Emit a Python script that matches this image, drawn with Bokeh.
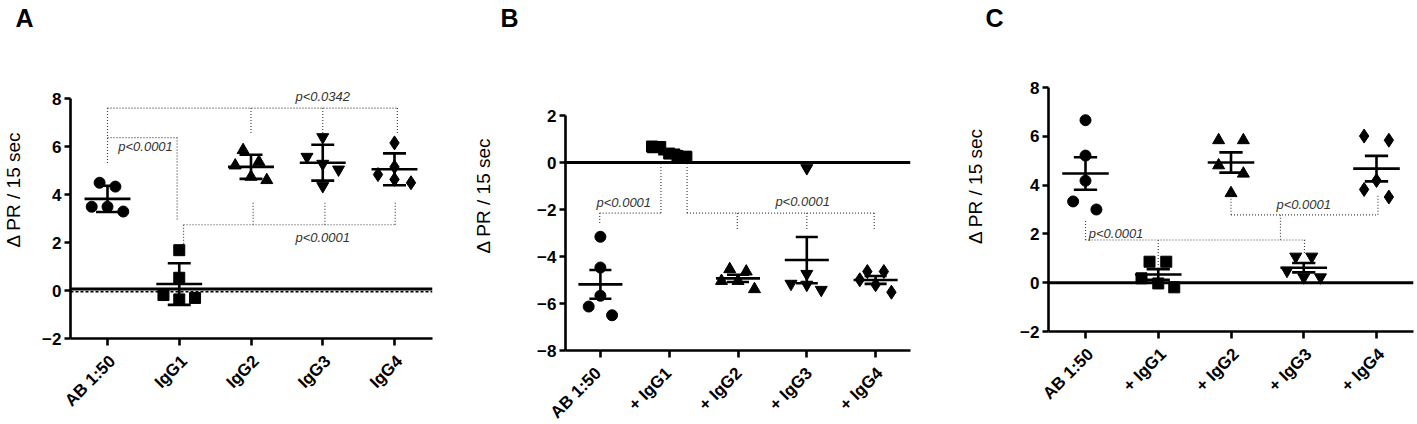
import numpy as np
from math import pi
from bokeh.plotting import figure
from bokeh.layouts import row, column
from bokeh.models import Span, FixedTicker, Range1d
from bokeh.core.properties import value
from bokeh.embed import file_html
from bokeh.resources import INLINE

FONT = "Liberation Sans"

# ---------------- data ----------------
A_labels = ["AB 1:50", "IgG1", "IgG2", "IgG3", "IgG4"]
A_ab   = [4.49, 4.33, 3.49, 3.49, 3.29]
A_igg1 = [1.68, 0.53, -0.19, -0.37, -0.31]
A_igg2 = [5.85, 5.36, 5.21, 4.74, 4.60]
A_igg3 = [6.39, 5.57, 5.28, 5.04, 4.35]
A_igg4 = [6.15, 5.15, 4.83, 4.63, 4.49]
A_jitter = [[-0.11, 0.11, -0.22, 0.0, 0.22],
            [0.0, 0.0, -0.22, 0.0, 0.22],
            [-0.11, 0.11, -0.22, 0.0, 0.22],
            [0.0, -0.22, 0.0, 0.22, 0.0],
            [0.0, 0.0, -0.23, 0.0, 0.23]]

B_labels = ["AB 1:50", "+ IgG1", "+ IgG2", "+ IgG3", "+ IgG4"]
B_ab   = [-3.16, -4.47, -5.67, -6.13, -6.50]
B_igg1 = [0.68, 0.66, 0.38, 0.28, 0.24]
B_igg2 = [-4.54, -4.64, -5.04, -5.04, -5.39]
B_igg3 = [-0.24, -4.74, -5.16, -5.20, -5.42]
B_igg4 = [-4.64, -4.64, -4.99, -5.20, -5.52]
B_jitter = [[0.0, 0.0, 0.0, -0.17, 0.17],
            [-0.25, -0.13, 0.0, 0.12, 0.25],
            [-0.12, 0.12, -0.24, 0.0, 0.24],
            [0.0, 0.0, -0.23, 0.0, 0.21],
            [-0.12, 0.12, -0.23, 0.0, 0.23]]

C_labels = ["AB 1:50", "+ IgG1", "+ IgG2", "+ IgG3", "+ IgG4"]
C_ab   = [6.66, 5.21, 4.18, 3.33, 3.00]
C_igg1 = [0.86, 0.86, 0.18, -0.03, -0.19]
C_igg2 = [5.84, 5.84, 4.81, 4.47, 3.67]
C_igg3 = [1.07, 1.07, 0.49, 0.22, 0.22]
C_igg4 = [6.01, 5.84, 4.19, 3.82, 3.51]
C_jitter = [[0.0, 0.0, 0.0, -0.17, 0.15],
            [-0.12, 0.11, -0.23, 0.0, 0.22],
            [-0.17, 0.17, -0.17, 0.17, 0.0],
            [-0.11, 0.11, -0.23, 0.0, 0.23],
            [-0.17, 0.17, 0.0, -0.17, 0.17]]

markers = ["circle", "square", "triangle", "inverted_triangle", "diamond"]
marker_sizes = [11, 11, 12, 12, 14]

# significance brackets (x in category units, y in data units)
A_brackets = [(0, 7.6, 4.04, 7.6), (0, 7.6, 0, 5.28), (2.0, 7.6, 2.0, 6.55),
              (3.0, 7.6, 3.0, 6.55), (4.04, 7.6, 4.04, 6.55),
              (0, 6.37, 0.97, 6.37), (0.97, 6.37, 0.97, 2.88),
              (1.06, 2.74, 4.01, 2.74), (1.06, 2.74, 1.06, 1.9),
              (2.03, 2.74, 2.03, 3.7), (3.03, 2.74, 3.03, 3.7), (4.01, 2.74, 4.01, 3.7)]
A_ptext = [("p<0.0342", 3.0, 8.1), ("p<0.0001", 0.53, 6.0), ("p<0.0001", 3.0, 2.2)]

B_brackets = [(-0.01, -2.15, 0.88, -2.15), (-0.01, -2.15, -0.01, -2.58),
              (0.88, -2.15, 0.88, -0.1), (1.26, -2.15, 3.98, -2.15),
              (1.26, -2.15, 1.26, -0.1), (1.99, -2.15, 1.99, -2.86),
              (3.0, -2.15, 3.0, -2.86), (3.98, -2.15, 3.98, -2.86)]
B_ptext = [("p<0.0001", 0.34, -1.69), ("p<0.0001", 2.94, -1.66)]

C_brackets = [(0, 1.75, 3.02, 1.75), (0, 1.75, 0, 2.59), (1.0, 1.75, 1.0, 0.63),
              (3.01, 1.75, 3.01, 1.18), (2.0, 2.78, 4.02, 2.78), (2.0, 2.78, 2.0, 3.5),
              (4.02, 2.78, 4.02, 3.64), (2.68, 2.78, 2.68, 1.75)]
C_ptext = [("p<0.0001", 0.42, 2.0), ("p<0.0001", 3.0, 3.2)]

PAGE_H = 424
TOP_H = 40      # strip holding the panel letter
BELOW = 10      # room under the frame for the x ticks
TICK_FS = 17
XLAB_FS = 17
YLAB_FS = 19
LETTER_FS = 25


def blank_fig(w, h, xr, yr):
    f = figure(width=w, height=h, output_backend="svg", toolbar_location=None,
               x_range=xr, y_range=yr, x_axis_location=None, y_axis_location=None,
               min_border_left=0, min_border_right=0, min_border_top=0,
               min_border_bottom=0, frame_align=False)
    f.xgrid.grid_line_color = None
    f.ygrid.grid_line_color = None
    f.outline_line_color = None
    return f


def make_panel(letter, labels, groups, jitter, err, yticks, brackets, ptext,
               fig_x0, fig_w, frame_l, frame_r, cat0, cat4, ybot_px, ytop_px,
               ylabel_x, letter_x, dashed_zero=False):
    ymin, ymax = yticks[0], yticks[-1]
    ppu = (ybot_px - ytop_px) / (ymax - ymin)
    y_end = ymin + (ybot_px - TOP_H) / ppu
    sp = (cat4 - cat0) / 4.0
    x_start = -(cat0 - frame_l) / sp
    x_end = 4 + (frame_r - cat4) / sp
    main_h = int(round(ybot_px)) + BELOW - TOP_H

    p = figure(width=fig_w, height=main_h, output_backend="svg", toolbar_location=None,
               x_range=Range1d(x_start, x_end), y_range=Range1d(ymin, y_end),
               min_border_left=int(round(frame_l - fig_x0)),
               min_border_right=int(round(fig_x0 + fig_w - frame_r)),
               min_border_top=0, min_border_bottom=BELOW, frame_align=False)
    p.outline_line_color = None
    p.xgrid.grid_line_color = None
    p.ygrid.grid_line_color = None

    # axes
    ya = p.yaxis[0]
    ya.ticker = FixedTicker(ticks=yticks)
    ya.bounds = (ymin, ymax)
    xa = p.xaxis[0]
    xa.ticker = FixedTicker(ticks=[0, 1, 2, 3, 4])
    xa.major_label_overrides = {i: "" for i in range(5)}
    for ax in (xa, ya):
        ax.axis_line_width = 2.6
        ax.axis_line_color = "black"
        ax.major_tick_line_width = 2.6
        ax.major_tick_in = 0
        ax.minor_tick_line_color = None
        ax.major_label_text_font = FONT
        ax.major_label_text_font_style = "bold"
        ax.major_label_text_font_size = f"{TICK_FS}px"
        ax.major_label_text_color = "black"
    ya.major_tick_out = 6
    ya.major_label_standoff = 3
    xa.major_tick_out = 7
    xa.major_label_standoff = 0
    xa.major_label_text_font_size = "0px"

    ya.axis_label = "\u0394 PR / 15 sec"
    ya.axis_label_text_font = FONT
    ya.axis_label_text_font_style = "normal"
    ya.axis_label_text_font_size = f"{YLAB_FS}px"
    ya.axis_label_text_color = "black"
    label_w = 0.889 * TICK_FS
    ya.axis_label_standoff = max(0, int(round(frame_l - ylabel_x - 6 - 3 - label_w - 0.6 * YLAB_FS)))

    # zero line
    if dashed_zero:
        p.add_layout(Span(location=0.06, dimension="width", line_color="black", line_width=3))
        p.add_layout(Span(location=-0.05, dimension="width", line_color="black",
                          line_width=1.4, line_dash="3 2"))
    else:
        p.add_layout(Span(location=0, dimension="width", line_color="black", line_width=3))

    # brackets
    bx0, by0, bx1, by1 = zip(*brackets)
    p.segment(x0=list(bx0), y0=list(by0), x1=list(bx1), y1=list(by1),
              line_color="#444444", line_width=1.2, line_dash="1 2")
    t, tx, ty = zip(*ptext)
    p.text(x=list(tx), y=list(ty), text=list(t), text_font=value(FONT),
           text_font_style="italic", text_font_size="13px", text_color="#333333",
           text_align="center", text_baseline="middle")

    # points + mean +- error
    mx, my, elo, ehi = [], [], [], []
    for i, (vals, jit) in enumerate(zip(groups, jitter)):
        vals = np.asarray(vals, dtype=float)
        xs = i + np.asarray(jit)
        p.scatter(x=xs, y=vals, marker=markers[i], size=marker_sizes[i],
                  fill_color="black", line_color="black")
        m = vals.mean()
        sd = vals.std(ddof=1)
        e = sd if err == "sd" else sd / np.sqrt(len(vals))
        mx.append(i); my.append(m); elo.append(m - e); ehi.append(m + e)
    mx = np.array(mx, dtype=float)
    p.segment(x0=mx - 0.32, y0=my, x1=mx + 0.32, y1=my, line_color="black", line_width=2.6)
    p.segment(x0=mx, y0=elo, x1=mx, y1=ehi, line_color="black", line_width=2.6)
    p.segment(x0=mx - 0.16, y0=elo, x1=mx + 0.16, y1=elo, line_color="black", line_width=2.6)
    p.segment(x0=mx - 0.16, y0=ehi, x1=mx + 0.16, y1=ehi, line_color="black", line_width=2.6)

    # panel letter strip
    top = blank_fig(fig_w, TOP_H, Range1d(0, fig_w), Range1d(0, TOP_H))
    top.text(x=[letter_x - fig_x0], y=[TOP_H - 17], text=[letter], text_font=value(FONT),
             text_font_style="bold", text_font_size=f"{LETTER_FS}px", text_color="black",
             text_align="left", text_baseline="middle")

    # category labels strip (rotated 45 degrees) on the same x scale as the plot
    strip_h = PAGE_H - TOP_H - main_h
    sx0 = x_start - (frame_l - fig_x0) / sp
    sx1 = x_end + (fig_x0 + fig_w - frame_r) / sp
    s = blank_fig(fig_w, strip_h, Range1d(sx0, sx1), Range1d(0, strip_h))
    s.text(x=np.arange(5) + 5.0 / sp, y=[strip_h - 10] * 5, text=labels, angle=pi / 4,
           text_font=value(FONT), text_font_style="bold", text_font_size=f"{XLAB_FS}px",
           text_color="black", text_align="right", text_baseline="middle")
    return column(top, p, s, spacing=0)


pA = make_panel("A", A_labels, [A_ab, A_igg1, A_igg2, A_igg3, A_igg4], A_jitter, "sd",
                [-2, 0, 2, 4, 6, 8], A_brackets, A_ptext,
                fig_x0=0, fig_w=470, frame_l=70, frame_r=432, cat0=107, cat4=394,
                ybot_px=338, ytop_px=98, ylabel_x=19, letter_x=15, dashed_zero=True)
pB = make_panel("B", B_labels, [B_ab, B_igg1, B_igg2, B_igg3, B_igg4], B_jitter, "sem",
                [-8, -6, -4, -2, 0, 2], B_brackets, B_ptext,
                fig_x0=470, fig_w=470, frame_l=557, frame_r=910, cat0=592.7, cat4=874.3,
                ybot_px=350, ytop_px=115, ylabel_x=481, letter_x=500)
pC = make_panel("C", C_labels, [C_ab, C_igg1, C_igg2, C_igg3, C_igg4], C_jitter, "sem",
                [-2, 0, 2, 4, 6, 8], C_brackets, C_ptext,
                fig_x0=940, fig_w=477, frame_l=1048, frame_r=1413, cat0=1085, cat4=1376,
                ybot_px=331, ytop_px=87, ylabel_x=981, letter_x=985)

layout = row(pA, pB, pC, spacing=0)
open("out.html", "w").write(file_html(layout, INLINE))
